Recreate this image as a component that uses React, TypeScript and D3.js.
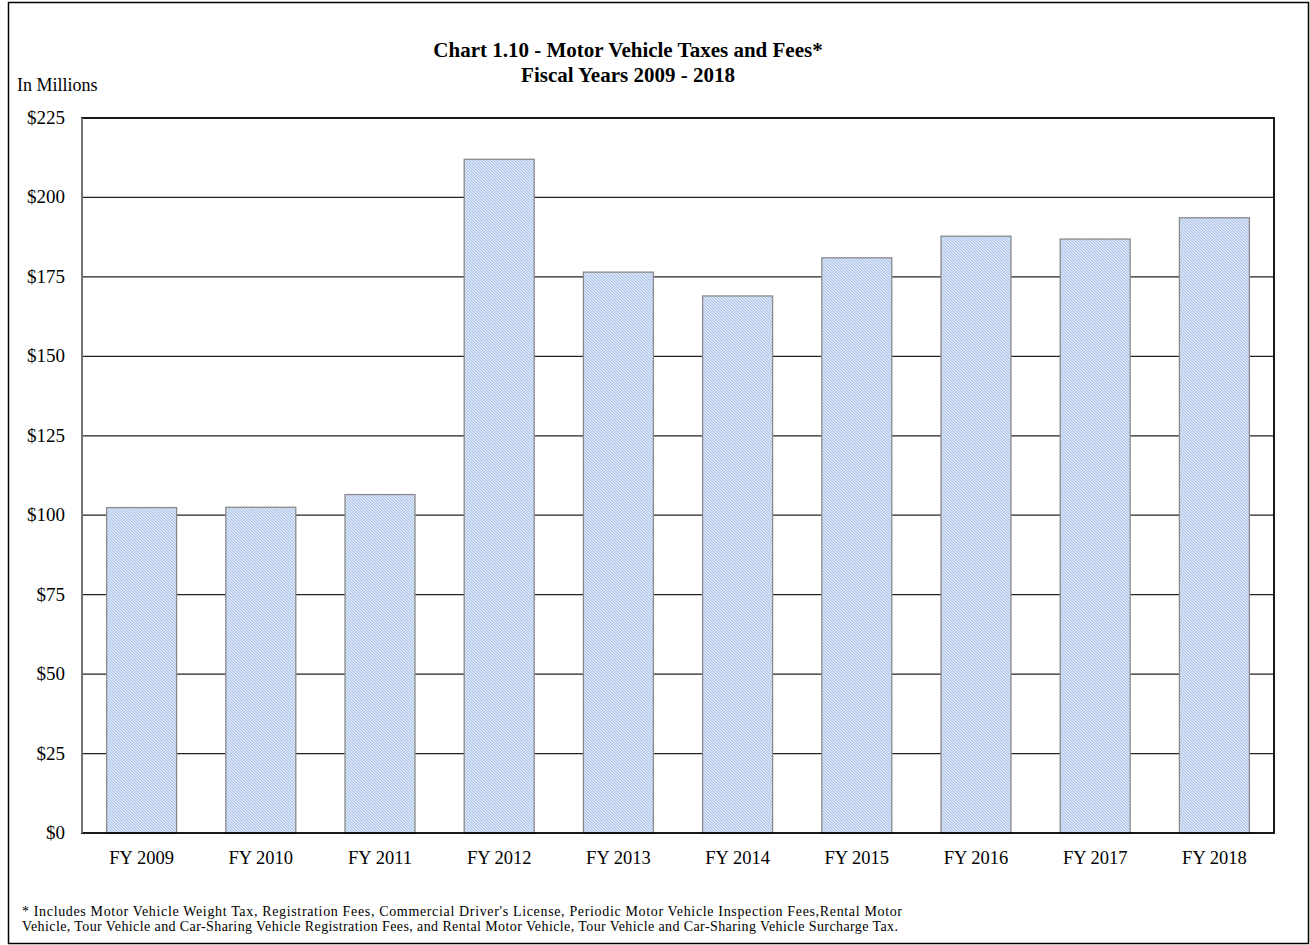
import React from "react";
import * as d3 from "d3";

const categories = ["FY 2009", "FY 2010", "FY 2011", "FY 2012", "FY 2013", "FY 2014", "FY 2015", "FY 2016", "FY 2017", "FY 2018"];
const values = [102.4, 102.5, 106.5, 212.0, 176.5, 169.0, 181.0, 187.8, 186.9, 193.6];
const yTicks = [0, 25, 50, 75, 100, 125, 150, 175, 200, 225];
const titleLines = ["Chart 1.10 - Motor Vehicle Taxes and Fees*", "Fiscal Years 2009 - 2018"];
const footnoteLines = [
  "* Includes Motor Vehicle Weight Tax, Registration Fees, Commercial Driver's License, Periodic Motor Vehicle Inspection Fees,Rental  Motor",
  "Vehicle, Tour Vehicle and Car-Sharing Vehicle Registration Fees, and Rental Motor Vehicle, Tour Vehicle and Car-Sharing Vehicle Surcharge Tax.",
];
const footnoteWidths = [880, 876];

const W = 1310;
const H = 945;
const plot = { left: 82, top: 118, right: 1274, bottom: 833 };
const font = "'Liberation Serif', 'Times New Roman', serif";

export default function App() {
  const x = d3.scaleBand<string>().domain(categories).range([plot.left, plot.right]).paddingInner(0.413).paddingOuter(0.2065);
  const y = d3.scaleLinear().domain([0, 225]).range([plot.bottom, plot.top]);

  return (
    <svg width={W} height={H} style={{ position: "absolute", left: 0, top: 0, background: "#fff" }}>
      <defs>
        <pattern id="hatch" patternUnits="userSpaceOnUse" width="3" height="3">
          <rect width="3" height="3" fill="#d9e5f6" />
          <path d="M-1,-1 L4,4 M-1,2 L1,4 M2,-1 L4,1" stroke="#a6c0e6" strokeWidth="1" />
        </pattern>
      </defs>
      <rect x={8.5} y={2.5} width={1300} height={941} fill="#fff" stroke="#000" strokeWidth={1.5} />
      {titleLines.map((t, i) => (
        <text key={t} x={628} y={57 + i * 25} textAnchor="middle" fontFamily={font} fontWeight="bold" fontSize={21}>
          {t}
        </text>
      ))}
      <text x={17} y={91} fontFamily={font} fontSize={18}>In Millions</text>
      {yTicks.map((t) => (
        <g key={t}>
          {t > 0 && t < 225 && (
            <line x1={plot.left} x2={plot.right} y1={y(t)} y2={y(t)} stroke="#222" strokeWidth={1.3} />
          )}
          <text x={65} y={y(t) + 6} textAnchor="end" fontFamily={font} fontSize={19}>
            {d3.format("$")(t)}
          </text>
        </g>
      ))}
      {categories.map((c, i) => (
        <rect
          key={c}
          x={x(c)}
          y={y(values[i])}
          width={x.bandwidth()}
          height={plot.bottom - y(values[i])}
          fill="url(#hatch)"
          stroke="#8a8a8a"
          strokeWidth={1.3}
        />
      ))}
      <rect x={plot.left} y={plot.top} width={plot.right - plot.left} height={plot.bottom - plot.top} fill="none" stroke="#000" strokeWidth={1.8} />
      <line x1={plot.left} x2={plot.left} y1={plot.top} y2={plot.bottom} stroke="#808080" strokeWidth={1.8} />
      {categories.map((c) => (
        <text key={c} x={(x(c) as number) + x.bandwidth() / 2} y={864} textAnchor="middle" fontFamily={font} fontSize={18.5}>
          {c}
        </text>
      ))}
      {footnoteLines.map((t, i) => (
        <text key={i} x={22} y={916 + i * 15} fontFamily={font} fontSize={14} textLength={footnoteWidths[i]} lengthAdjust="spacing">
          {t}
        </text>
      ))}
    </svg>
  );
}
